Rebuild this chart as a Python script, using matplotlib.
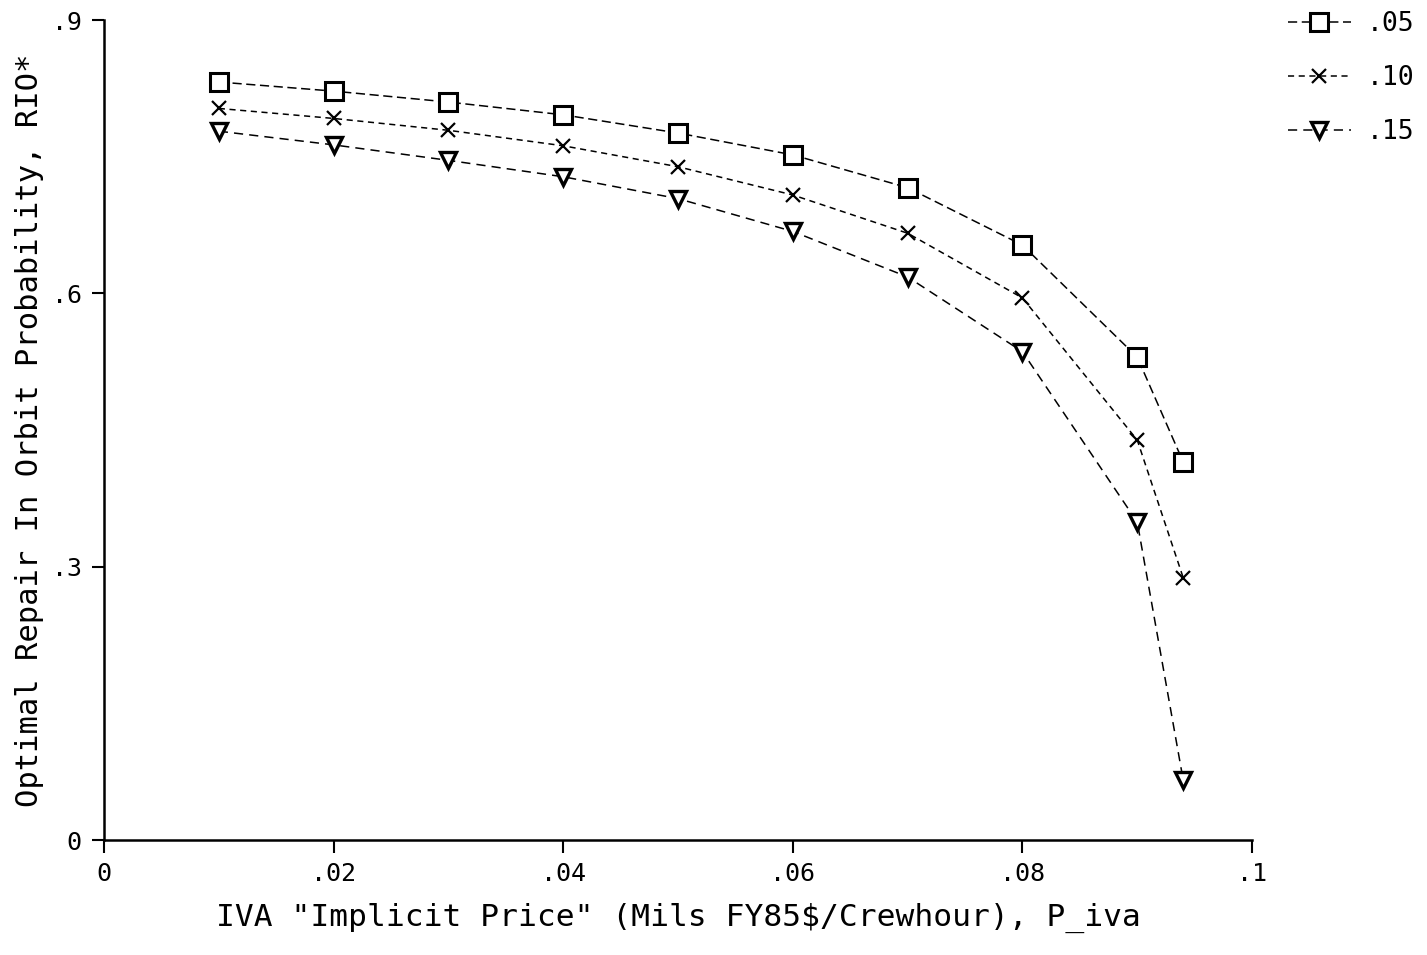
import numpy as np
import matplotlib
matplotlib.use("Agg")
import matplotlib.pyplot as plt

# IVA implicit price (x) and optimal RIO probability per series
priceIva = [0.01, 0.02, 0.03, 0.04, 0.05, 0.06, 0.07, 0.08, 0.09, 0.094]
rio05 = [0.832, 0.822, 0.810, 0.796, 0.776, 0.752, 0.716, 0.653, 0.530, 0.415]
rio10 = [0.803, 0.792, 0.779, 0.762, 0.739, 0.708, 0.666, 0.595, 0.439, 0.288]
rio15 = [0.778, 0.763, 0.746, 0.728, 0.704, 0.668, 0.618, 0.536, 0.349, 0.066]
seriesLabels = [".05", ".10", ".15"]

xTicks = [0, 0.02, 0.04, 0.06, 0.08, 0.1]
xTickLabels = ["0", ".02", ".04", ".06", ".08", ".1"]
yTicks = [0, 0.3, 0.6, 0.9]
yTickLabels = ["0", ".3", ".6", ".9"]

plt.rcParams["font.family"] = ["DejaVu Sans Mono"]

fig = plt.figure(figsize=(14.27, 9.55), dpi=100)
ax = fig.add_axes([0.0729, 0.1204, 0.8045, 0.8586])

styles = [
    dict(marker="s", markersize=13, mfc="white", mec="black", mew=2.2, linestyle=(0, (6, 3))),
    dict(marker="x", markersize=10, mec="black", mew=1.6, linestyle=(0, (4, 3))),
    dict(marker="v", markersize=12, mfc="white", mec="black", mew=2.4, linestyle=(0, (6, 4))),
]
for vals, lab, st in zip([rio05, rio10, rio15], seriesLabels, styles):
    ax.plot(priceIva, vals, color="black", linewidth=1.1, label=lab, **st)

ax.set_xlim(0, 0.1)
ax.set_ylim(0, 0.9)
ax.set_xticks(xTicks)
ax.set_xticklabels(xTickLabels)
ax.set_yticks(yTicks)
ax.set_yticklabels(yTickLabels)
ax.tick_params(axis="both", labelsize=18, length=9, width=1.5, direction="out", pad=7)
for side in ["top", "right"]:
    ax.spines[side].set_visible(False)
for side in ["left", "bottom"]:
    ax.spines[side].set_linewidth(1.8)

ax.set_xlabel('IVA "Implicit Price" (Mils FY85$/Crewhour), P_iva', fontsize=22.5, labelpad=12)
ax.set_ylabel("Optimal Repair In Orbit Probability, RIO*", fontsize=22)
ax.yaxis.set_label_coords(-0.052, 0.5)

ax.legend(loc="upper left", bbox_to_anchor=(1.015, 1.033), frameon=False, fontsize=19,
          handlelength=2.4, labelspacing=1.05, handletextpad=0.6, borderaxespad=0.3)

fig.savefig("out.png", dpi=100, facecolor="white")
